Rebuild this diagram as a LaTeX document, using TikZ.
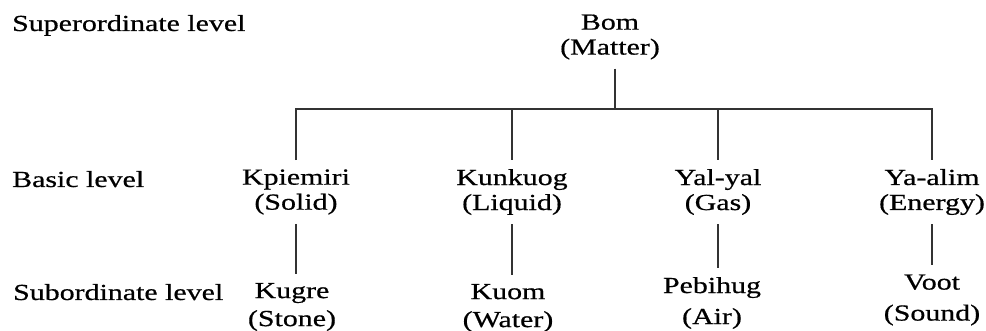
\documentclass[tikz,border=0pt]{standalone}
\usepackage{fontspec}
\setmainfont{Liberation Serif}[FakeStretch=1.3,FakeBold=0.6]
\begin{document}
\begin{tikzpicture}[x=1pt,y=-1pt,
  lbl/.style={font=\fontsize{23}{25}\selectfont, align=center, inner xsep=1pt, inner ysep=9pt},
  lvl/.style={font=\fontsize{23}{25}\selectfont, anchor=base west, inner sep=0pt},
  conn/.style={draw=black!80, line width=1.3pt}]
\useasboundingbox (0,0) rectangle (986,331);
\node[lvl] (sup) at (12,31) {Superordinate level};
\node[lvl] (bas) at (12,187) {Basic level};
\node[lvl] (sub) at (13,300) {Subordinate level};

\node[lbl] (bom) at (610,37) {Bom\\(Matter)};
\node[lbl] (kp) at (296,192) {Kpiemiri\\(Solid)};
\node[lbl] (ku) at (512,192) {Kunkuog\\(Liquid)};
\node[lbl] (yal) at (718,192) {Yal-yal\\(Gas)};
\node[lbl] (ya) at (932,192) {Ya-alim\\(Energy)};
\node[lbl] (kug) at (292,307) {Kugre\\[3pt](Stone)};
\node[lbl] (kuom) at (508,308) {Kuom\\[3pt](Water)};
\node[lbl] (peb) at (712,303) {Pebihug\\[6pt](Air)};
\node[lbl] (voot) at (932,300) {Voot\\[6pt](Sound)};

\coordinate (hub) at (615,109);
\draw[conn] (bom.south -| hub) -- (hub);
\draw[conn] (kp.north) |- (hub) -| (ya.north);
\draw[conn] (hub -| ku.north) -- (ku.north);
\draw[conn] (hub -| yal.north) -- (yal.north);

\draw[conn] (kp.south) -- (kp.south |- kug.north);
\draw[conn] (ku.south) -- (ku.south |- kuom.north);
\draw[conn] (yal.south) -- (yal.south |- peb.north);
\draw[conn] (ya.south) -- (ya.south |- voot.north);
\end{tikzpicture}
\end{document}
